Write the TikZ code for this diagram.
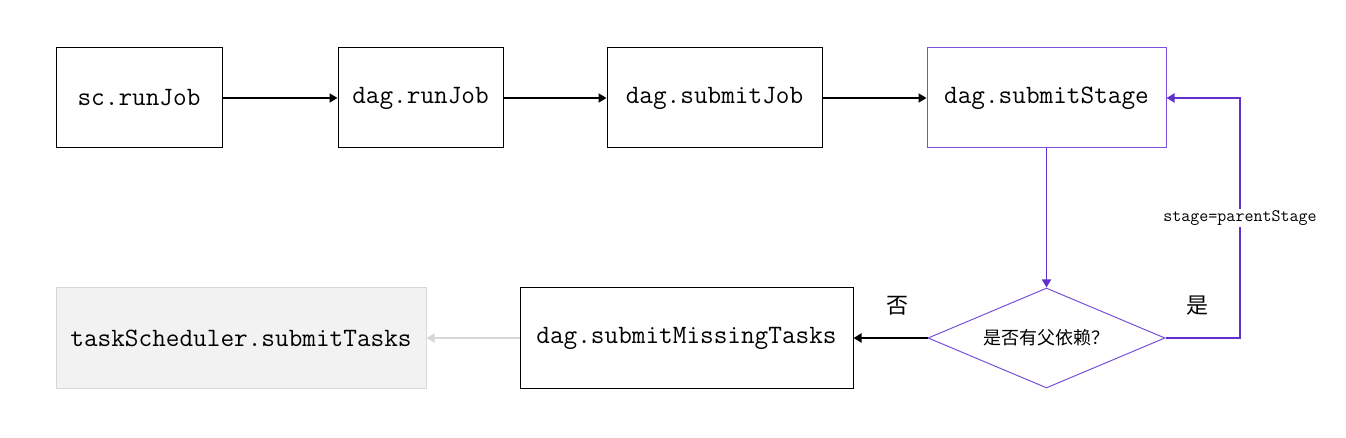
\documentclass[tikz,border=0pt]{standalone}
\usepackage{fontspec}
\newfontfamily\cjk{Noto Sans CJK SC}
\usetikzlibrary{arrows.meta,shapes.geometric}

\definecolor{flowpurple}{RGB}{98,46,205}
\definecolor{boxpurple}{RGB}{120,80,220}
\definecolor{taskfill}{RGB}{242,242,242}
\definecolor{taskline}{RGB}{215,215,215}

\tikzset{
  box/.style={draw, line width=1pt, minimum height=100pt, inner sep=0pt, font=\fontsize{26.5}{28}\ttfamily},
  flow/.style={line width=1.8pt, -{Triangle[length=8pt,width=9pt]}},
  choice/.style={font=\fontsize{22}{24}\selectfont\cjk}
}

\begin{document}
\begin{tikzpicture}[x=1pt,y=1pt]

\useasboundingbox (0,0) rectangle (1346,-438);

% Draw top row

\node[box, minimum width=166pt] (sc) at (139,-98) {sc.runJob};

\node[box, minimum width=165pt] (runjob) at (420.5,-98) {dag.runJob};

\node[box, minimum width=215pt] (submitjob) at (714.5,-98) {dag.submitJob};

\node[box, draw=boxpurple, minimum width=239pt] (stage) at (1046.5,-98) {dag.submitStage};

% Draw decision

\node[diamond, draw=boxpurple, line width=1pt, aspect=2.37, inner sep=0pt,
  minimum width=237pt, minimum height=100pt, font=\fontsize{18}{20}\selectfont\cjk] (parent) at (1046.5,-338) {是否有父依赖？};

% Draw bottom row

\node[box, minimum width=333pt] (missing) at (686.5,-338) {dag.submitMissingTasks};

\node[box, draw=taskline, fill=taskfill, minimum width=370pt] (tasks) at (241,-338) {taskScheduler.submitTasks};

% Draw connectors

\draw[flow] (sc) -- (runjob);

\draw[flow] (runjob) -- (submitjob);

\draw[flow] (submitjob) -- (stage);

\draw[flow, color=flowpurple] (stage) -- (parent);

\draw[flow] (parent.west) -- (missing.east);

\draw[flow, color=taskline] (missing.west) -- (tasks.east);

% Draw loop back

\coordinate (turn) at (1240,-338);

\draw[flow, color=flowpurple] (parent.east) -- (turn) |- (stage.east)
  node[pos=0.25, fill=white, text=black, inner sep=2pt, font=\fontsize{17.5}{19}\ttfamily] {stage=parentStage};

% Draw answer labels

\node[choice] (no) at (897,-306) {否};

\node[choice] (yes) at (1197,-306) {是};

\end{tikzpicture}
\end{document}
